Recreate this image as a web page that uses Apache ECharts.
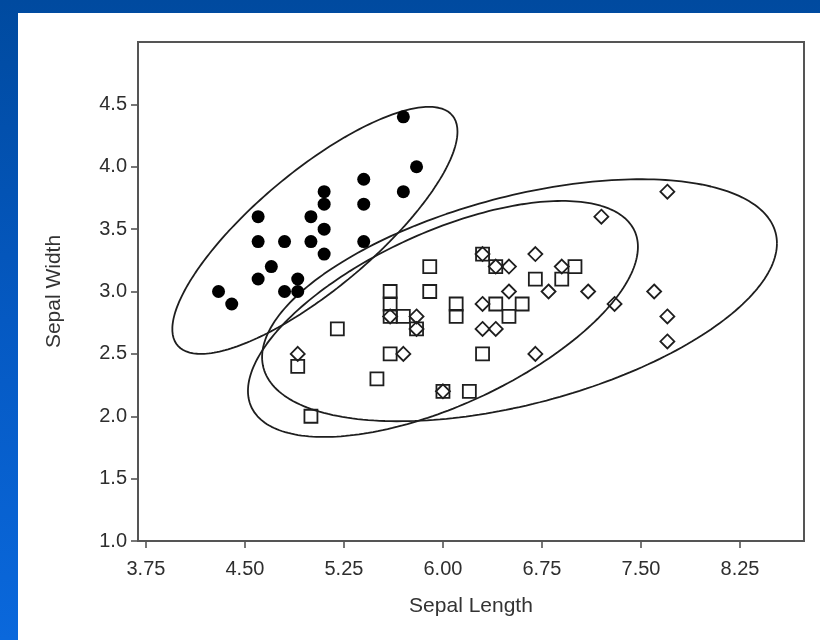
<!DOCTYPE html>
<html>
<head>
<meta charset="utf-8">
<script src="https://cdn.jsdelivr.net/npm/echarts@6/dist/echarts.min.js"></script>
<style>
html,body{margin:0;padding:0;width:820px;height:640px;overflow:hidden;}
body{background:linear-gradient(to bottom,#004a9f 0%,#0559c2 50%,#0a68dc 100%);position:relative;}
#panel{position:absolute;left:18px;top:13px;width:802px;height:627px;background:#fff;}
#chart{position:absolute;left:0;top:0;width:820px;height:640px;}
</style>
</head>
<body>
<div id="panel"></div>
<div id="chart"></div>
<script>
// Setosa (filled circles): [sepal length, sepal width]
const setosa = [
  [4.3,3.0],[4.4,2.9],[4.6,3.6],[4.6,3.4],[4.6,3.1],[4.7,3.2],[4.8,3.4],[4.8,3.0],
  [4.9,3.1],[4.9,3.0],[5.0,3.6],[5.0,3.4],[5.1,3.8],[5.1,3.7],[5.1,3.5],[5.1,3.3],
  [5.4,3.9],[5.4,3.7],[5.4,3.4],[5.7,4.4],[5.7,3.8],[5.8,4.0]
];
// Versicolor (open squares)
const versicolor = [
  [5.9,3.2],[5.9,3.0],[5.6,3.0],[5.6,2.9],[5.6,2.8],[5.7,2.8],[5.8,2.7],[5.2,2.7],
  [4.9,2.4],[5.6,2.5],[5.5,2.3],[6.0,2.2],[5.0,2.0],[6.3,3.3],[6.4,3.2],[7.0,3.2],
  [6.9,3.1],[6.7,3.1],[6.1,2.9],[6.1,2.8],[6.4,2.9],[6.6,2.9],[6.5,2.8],[6.3,2.5],
  [6.2,2.2]
];
// Virginica (open diamonds)
const virginica = [
  [4.9,2.5],[5.7,2.5],[5.6,2.8],[5.8,2.8],[5.8,2.7],[6.0,2.2],[6.3,3.3],[6.4,3.2],
  [6.5,3.2],[6.7,3.3],[6.9,3.2],[6.8,3.0],[7.1,3.0],[6.5,3.0],[6.3,2.9],[6.3,2.7],
  [6.4,2.7],[6.7,2.5],[7.7,3.8],[7.2,3.6],[7.6,3.0],[7.3,2.9],[7.7,2.8],[7.7,2.6]
];
// Ellipse parameters: [centerX, centerY, halfExtentX, halfExtentY, correlation]
const ellipseSetosa     = [5.03, 3.49, 1.08, 0.99, 0.80];
const ellipseVersicolor = [6.00, 2.78, 1.477, 0.946, 0.61];
const ellipseVirginica  = [6.58, 2.93, 1.95, 0.97, 0.47];
// Axis ticks
const xTicks = [3.75, 4.50, 5.25, 6.00, 6.75, 7.50, 8.25];
const yTicks = [1.0, 1.5, 2.0, 2.5, 3.0, 3.5, 4.0, 4.5];

function ellipsePoints(p){
  const [cx, cy, rx, ry, rho] = p;
  const pts = [];
  const n = 240;
  for (let i = 0; i <= n; i++){
    const t = 2*Math.PI*i/n;
    pts.push([cx + rx*Math.cos(t), cy + ry*(rho*Math.cos(t) + Math.sqrt(1-rho*rho)*Math.sin(t))]);
  }
  return pts;
}

const ink = '#1e1e1e';
const axisColor = '#555';
const font = 'Liberation Sans, Arial, sans-serif';

const chart = echarts.init(document.getElementById('chart'), null, {renderer:'canvas'});
const ellipseSeries = (d) => ({
  type:'line', data: ellipsePoints(d), showSymbol:false, symbol:'none', smooth:false,
  lineStyle:{color:ink, width:1.8, opacity:1}, silent:true, z:1, animation:false
});
chart.setOption({
  animation:false,
  backgroundColor:'transparent',
  grid:{left:138, top:42, right:16, bottom:99, show:true, borderColor:axisColor, borderWidth:2, backgroundColor:'transparent'},
  xAxis:{
    type:'value', min:3.69, max:8.735,
    name:'Sepal Length', nameLocation:'middle', nameGap:55,
    nameTextStyle:{fontFamily:font, fontSize:21, color:'#333'},
    axisLine:{show:true, onZero:false, lineStyle:{color:axisColor, width:2}},
    axisTick:{show:true, inside:false, length:7, lineStyle:{color:axisColor, width:1.6}, customValues:xTicks},
    axisLabel:{show:true, margin:18, fontFamily:font, fontSize:20, color:'#2e2e2e', customValues:xTicks,
      formatter:(v)=>v.toFixed(2)},
    splitLine:{show:false}
  },
  yAxis:{
    type:'value', min:1.0, max:5.0,
    name:'Sepal Width', nameLocation:'middle', nameGap:73, nameRotate:90,
    nameTextStyle:{fontFamily:font, fontSize:21, color:'#333'},
    axisLine:{show:true, onZero:false, lineStyle:{color:axisColor, width:2}},
    axisTick:{show:true, inside:false, length:7, lineStyle:{color:axisColor, width:1.6}, customValues:yTicks},
    axisLabel:{show:true, margin:11, fontFamily:font, fontSize:20, color:'#2e2e2e', customValues:yTicks,
      formatter:(v)=>v.toFixed(1)},
    splitLine:{show:false}
  },
  series:[
    ellipseSeries(ellipseSetosa),
    ellipseSeries(ellipseVersicolor),
    ellipseSeries(ellipseVirginica),
    {type:'scatter', data:setosa, symbol:'circle', symbolSize:13,
      itemStyle:{color:'#000', borderWidth:0, opacity:1}, z:3},
    {type:'scatter', data:versicolor, symbol:'rect', symbolSize:13,
      itemStyle:{color:'rgba(255,255,255,0)', borderColor:ink, borderWidth:1.8, opacity:1}, z:3},
    {type:'scatter', data:virginica, symbol:'diamond', symbolSize:14,
      itemStyle:{color:'rgba(255,255,255,0)', borderColor:ink, borderWidth:1.8, opacity:1}, z:3}
  ]
});
</script>
</body>
</html>
